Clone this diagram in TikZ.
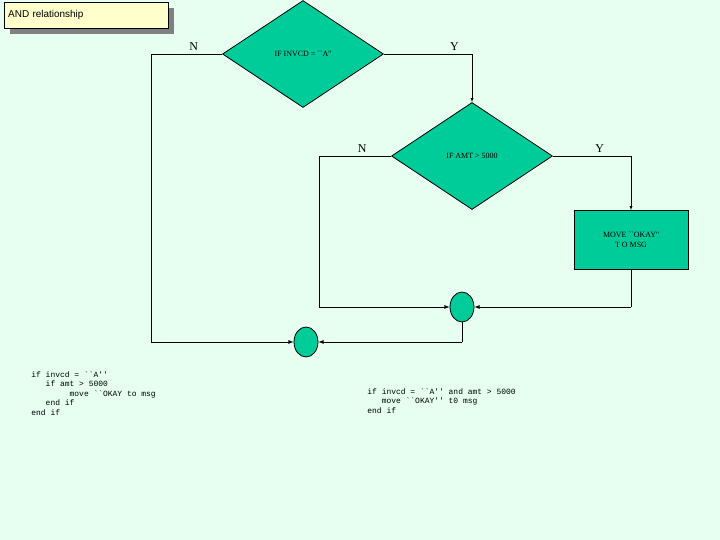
\documentclass[tikz,border=0pt]{standalone}
\usepackage{fontspec}
\newfontfamily\sansf{Liberation Sans}
\newfontfamily\seriff{Liberation Serif}
\newfontfamily\monof{Liberation Mono}
\usetikzlibrary{shapes.geometric,arrows,calc,positioning}
\definecolor{mint}{HTML}{E6FFF0}
\definecolor{flowgreen}{HTML}{00CC99}
\definecolor{paleyellow}{HTML}{FFFFCC}

\begin{document}
\begin{tikzpicture}[x=1bp,y=-1bp]
	 \tikzset{
		decision/.style={draw,diamond,aspect=1.5,fill=flowgreen,inner sep=0pt,font=\seriff\footnotesize},
		merge/.style={draw,ellipse,fill=flowgreen,minimum width=24bp,minimum height=30bp,inner sep=0pt},
		lbl/.style={font=\seriff\large},
		code/.style={font=\monof\footnotesize,align=left,anchor=north west,inner sep=0pt}
	 }
	 \fill[mint] (0,0) rectangle (720,540);
	 \begin{scope}[thick]
		\fill[gray] (10,8) rectangle (174,34);
		\node[anchor=north west,minimum width=164bp,minimum height=26bp,draw,thin,fill=paleyellow,inner sep=4pt,font=\sansf\normalsize,text width=156bp](title) at (4,2) {AND relationship};

		\node[decision,minimum width=161bp,minimum height=107bp](invcd) at (303,54) {IF INVCD = ``A''};
		\node[decision,minimum width=161bp,minimum height=107bp](amt) at (472,156) {IF AMT > 5000};
		\node[draw,fill=flowgreen,minimum width=114bp,minimum height=59bp,align=center,font=\seriff\footnotesize](okay) at (631,240) {MOVE ``OKAY''\\T O MSG};
		\node[merge](inner) at (462,307) {};
		\node[merge](outer) at (306,342) {};

		\draw[thin,->,>=latex] (invcd.east) -| (amt.north) node[pos=0.4,above,lbl] {Y};
		\draw[thin,->,>=latex] (amt.east) -| (okay.north) node[pos=0.3,above,lbl] {Y};
		\draw[thin] (invcd.west) -| (151,342) node[pos=0.2,above,lbl] {N};
		\draw[->,>=latex] (151,342) -- (outer.west);
		\draw[thin] (amt.west) -| (319,307) node[pos=0.2,above,lbl] {N};
		\draw[->,>=latex] (319,307) -- (inner.west);
		\draw[thin] (okay.south) |- (631,307);
		\draw[->,>=latex] (631,307) -- (inner.east);
		\draw[thin] (inner.south) |- (462,342);
		\draw[->,>=latex] (462,342) -- (outer.east);

		\node[code](plain) at (31,371) {if invcd = ``A''\\\ \ \ if amt > 5000\\\ \ \ \ \ \ \ \ move ``OKAY to msg\\\ \ \ end if\\end if};
		\node[code](combined) at (367,388) {if invcd = ``A'' and amt > 5000\\\ \ \ move ``OKAY'' t0 msg\\end if};
	 \end{scope}
\end{tikzpicture}
\end{document}
